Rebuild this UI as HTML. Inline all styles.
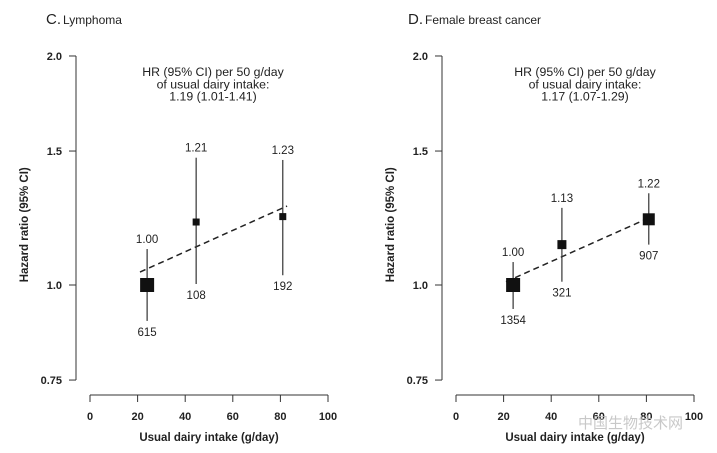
<!DOCTYPE html>
<html><head><meta charset="utf-8"><style>
body{margin:0;background:#fff}
svg{display:block;font-family:"Liberation Sans",Arial,sans-serif}
</style></head><body>
<svg id="chart" width="717" height="453" viewBox="0 0 717 453"></svg>
<script>
const categoriesX = [24, 44.6, 81];
const lymphHR = [1.00, 1.21, 1.23];
const lymphLo = [0.897, 1.003, 1.03];
const lymphHi = [1.115, 1.47, 1.46];
const lymphN = ["615", "108", "192"];
const lymphSize = [14, 7, 7];
const lymphTrend = [[21, 1.04], [82.8, 1.27]];
const breastX = [24, 44.5, 81];
const breastHR = [1.00, 1.13, 1.22];
const breastLo = [0.93, 1.01, 1.13];
const breastHi = [1.072, 1.263, 1.32];
const breastN = ["1354", "321", "907"];
const breastSize = [14, 9, 12];
const breastTrend = [[21, 1.01], [81, 1.225]];
const yTicks = [2.0, 1.5, 1.0, 0.75];
const yTickLabels = ["2.0", "1.5", "1.0", "0.75"];
const xTicks = [0, 20, 40, 60, 80, 100];

const NS = "http://www.w3.org/2000/svg";
const svg = document.getElementById("chart");
function mk(tag, attrs, parent, text){
  const e = document.createElementNS(NS, tag);
  for (const k in attrs) e.setAttribute(k, attrs[k]);
  if (text !== undefined) e.textContent = text;
  (parent || svg).appendChild(e);
  return e;
}
function panel(cfg){
  const g = mk("g", {});
  
  
  const yS = v => 285 - 330.4 * Math.log(v);
  const xS = v => cfg.x0 + 2.38 * v;
  const t = mk("text", {x: cfg.tx, y: 24, "font-size": 15, fill: "#222"}, g);
  
  
  mk("tspan", {}, t, cfg.letter);
  mk("tspan", {"font-size": 12, dx: 2}, t, cfg.title);
  const ya = mk("line", {x1: cfg.ax, x2: cfg.ax, y1: yS(2), y2: yS(0.75), stroke: "#333", "stroke-width": 1}, g);
  
  
  yTicks.forEach((v, i) => {
    mk("line", {x1: cfg.ax - 7, x2: cfg.ax, y1: yS(v), y2: yS(v), stroke: "#333"}, g);
    const l = mk("text", {x: cfg.ax - 14, y: yS(v) + 4, "font-size": 11, "font-weight": "bold", "text-anchor": "end", fill: "#222"}, g, yTickLabels[i]);
    
    
  });
  const yt = mk("text", {transform: `translate(${cfg.ax - 48},${yS(1.2)}) rotate(-90)`, "font-size": 11.5, "font-weight": "bold", "text-anchor": "middle", fill: "#222"}, g, "Hazard ratio (95% CI)");
  
  
  const xa = mk("line", {x1: xS(0), x2: xS(100), y1: 395, y2: 395, stroke: "#333"}, g);
  
  
  xTicks.forEach(v => {
    mk("line", {x1: xS(v), x2: xS(v), y1: 395, y2: 402, stroke: "#333"}, g);
    const l = mk("text", {x: xS(v), y: 420, "font-size": 11, "font-weight": "bold", "text-anchor": "middle", fill: "#222"}, g, String(v));
    
    
  });
  const xt = mk("text", {x: xS(50), y: 441, "font-size": 11.5, "font-weight": "bold", "text-anchor": "middle", fill: "#222"}, g, "Usual dairy intake (g/day)");
  
  
  cfg.note.forEach((line, i) => {
    const a = mk("text", {x: cfg.nx, y: 76 + i * 12.3, "font-size": 12.3, "text-anchor": "middle", fill: "#222"}, g, line);
    
    
  });
  const tr = mk("line", {x1: xS(cfg.trend[0][0]), y1: yS(cfg.trend[0][1]), x2: xS(cfg.trend[1][0]), y2: yS(cfg.trend[1][1]), stroke: "#222", "stroke-width": 1.5, "stroke-dasharray": "6,4"}, g);
  
  
  cfg.xs.forEach((xv, i) => {
    const cx = xS(xv);
    const ci = mk("line", {x1: cx, x2: cx, y1: yS(cfg.hi[i]), y2: yS(cfg.lo[i]), stroke: "#333", "stroke-width": 1.2}, g);
    
    
    const sz = cfg.size[i];
    const r = mk("rect", {x: cx - sz / 2, y: yS(cfg.hr[i]) - sz / 2, width: sz, height: sz, fill: "#111"}, g);
    
    
    const hl = mk("text", {x: cx, y: yS(cfg.hi[i]) - 6, "font-size": 11.5, "text-anchor": "middle", fill: "#222"}, g, cfg.hr[i].toFixed(2));
    
    
    const nl = mk("text", {x: cx, y: yS(cfg.lo[i]) + 15, "font-size": 11.5, "text-anchor": "middle", fill: "#222"}, g, cfg.n[i]);
    
    
  });
}
panel({name: "lymphoma-panel", letter: "C.", title: "Lymphoma", tx: 46, ax: 76, x0: 90, nx: 213,
  note: ["HR (95% CI) per 50 g/day", "of usual dairy intake:", "1.19 (1.01-1.41)"],
  xs: categoriesX, hr: lymphHR, lo: lymphLo, hi: lymphHi, n: lymphN, size: lymphSize, trend: lymphTrend});
panel({name: "breast-cancer-panel", letter: "D.", title: "Female breast cancer", tx: 408, ax: 442, x0: 456, nx: 585,
  note: ["HR (95% CI) per 50 g/day", "of usual dairy intake:", "1.17 (1.07-1.29)"],
  xs: breastX, hr: breastHR, lo: breastLo, hi: breastHi, n: breastN, size: breastSize, trend: breastTrend});
const wm = mk("text", {x: 578, y: 428, "font-size": 15, fill: "#bbb", "font-family": "\"Noto Sans CJK SC\", sans-serif", opacity: 0.8}, svg, "中国生物技术网");


</script>
</body></html>
